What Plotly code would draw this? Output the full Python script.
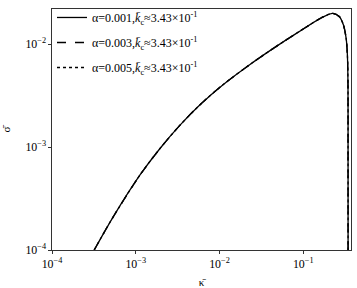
import plotly.graph_objects as go

kappa = [3.19e-4, 5.38e-4, 1.119e-3, 1.936e-3, 3.357e-3, 5.81e-3, 1.102e-2, 2.291e-2,
         4.345e-2, 8.83e-2, 0.1702, 0.2254, 0.2704, 0.302, 0.3251, 0.3365, 0.3420,
         0.3426, 0.3430]
sigma = [1.0e-4, 2.099e-4, 5.32e-4, 9.62e-4, 1.622e-3, 2.559e-3, 4.027e-3, 6.295e-3,
         9.02e-3, 1.312e-2, 1.824e-2, 1.986e-2, 1.841e-2, 1.528e-2, 1.135e-2, 7.82e-3,
         4.00e-3, 1.0e-3, 1.0e-4]

series_names = [
    "α=0.001,<i>k̄</i><sub>c</sub>≈3.43×10<sup>-1</sup>",
    "α=0.003,<i>k̄</i><sub>c</sub>≈3.43×10<sup>-1</sup>",
    "α=0.005,<i>k̄</i><sub>c</sub>≈3.43×10<sup>-1</sup>",
]
dashes = ["solid", "dash", "dot"]

fig = go.Figure()
for i, (name, d) in enumerate(zip(series_names, dashes)):
    fig.add_trace(go.Scatter(
        x=kappa, y=sigma, mode="lines", name=name,
        line=dict(color="black", width=1.3, dash=d, shape="spline", smoothing=0.8,
                  simplify=False),
        legendgroup=str(i), hoverinfo="skip",
    ))

font = dict(family="Liberation Serif, Times New Roman, serif", color="black")
fig.update_layout(
    width=357, height=288,
    margin=dict(l=52, r=6, t=9, b=38, autoexpand=False),
    paper_bgcolor="white", plot_bgcolor="white",
    font=dict(size=9.5, **font),
    legend=dict(x=0.0, y=1.025, xanchor="left", yanchor="top",
                bgcolor="rgba(0,0,0,0)", borderwidth=0,
                font=dict(size=12, **font), tracegroupgap=6,
                itemwidth=30),
    showlegend=True,
    hovermode=False,
)
fig.update_xaxes(type="log", range=[-4, -0.43], showgrid=False, zeroline=False,
                 showline=True, linecolor="#333", linewidth=1, mirror=True,
                 ticks="outside", ticklen=3, tickcolor="#333",
                 dtick=1, exponentformat="power", automargin=False,
                 title=dict(text="κ̄", font=dict(size=11, **font), standoff=18))
fig.update_yaxes(type="log", range=[-4, -1.66], showgrid=False, zeroline=False,
                 showline=True, linecolor="#333", linewidth=1, mirror=True,
                 ticks="outside", ticklen=3, tickcolor="#333",
                 dtick=1, exponentformat="power", automargin=False,
                 title=dict(text="σ̄", font=dict(size=11, **font), standoff=34))
fig.write_html("out.html", config={"displayModeBar": False},
               post_script="document.body.style.margin='0';document.body.style.overflow='hidden';")
